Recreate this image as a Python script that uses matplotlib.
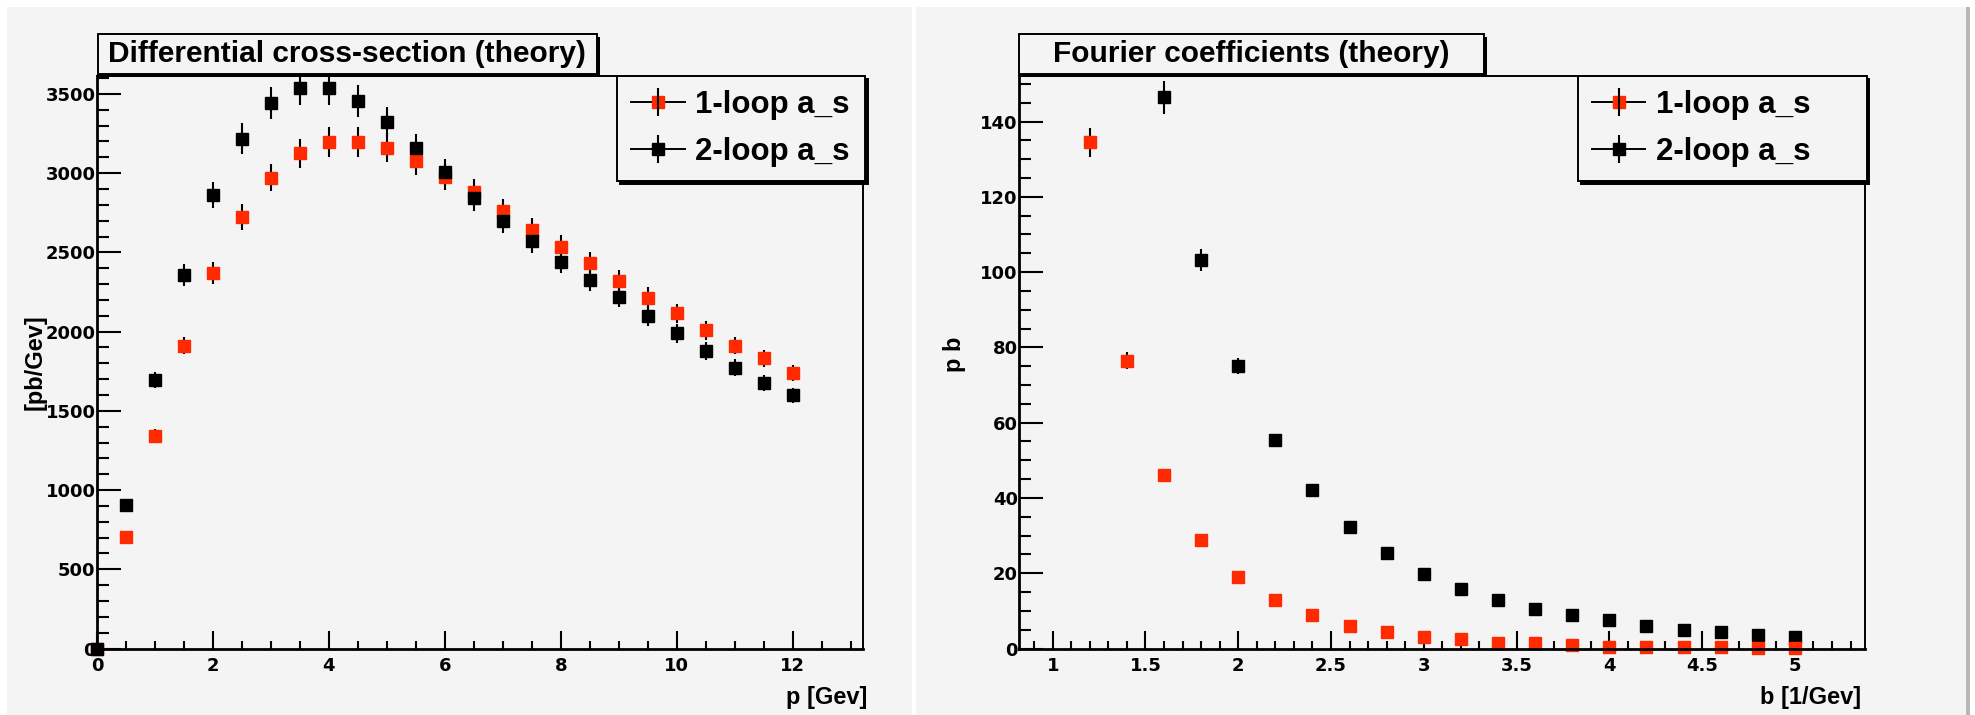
import matplotlib.pyplot as plt
from matplotlib.patches import Rectangle
from matplotlib.lines import Line2D
from matplotlib.legend_handler import HandlerTuple
from matplotlib.ticker import MultipleLocator, FuncFormatter

# ---- data: differential cross-section ----
p_gev = [0, 0.5, 1, 1.5, 2, 2.5, 3, 3.5, 4, 4.5, 5, 5.5, 6,
         6.5, 7, 7.5, 8, 8.5, 9, 9.5, 10, 10.5, 11, 11.5, 12]
xsec_1loop = [0, 706, 1341, 1911, 2369, 2724, 2972, 3126, 3195, 3195, 3161, 3077, 2978,
              2878, 2758, 2638, 2533, 2430, 2321, 2215, 2115, 2007, 1912, 1831, 1739]
xsec_1loop_err = [0, 25, 45, 55, 70, 80, 87, 92, 95, 95, 93, 90, 87,
                  84, 80, 77, 74, 71, 68, 65, 62, 59, 56, 53, 51]
xsec_2loop = [0, 908, 1696, 2358, 2865, 3218, 3441, 3536, 3536, 3454, 3323, 3159, 3006,
              2844, 2701, 2571, 2441, 2323, 2218, 2100, 1990, 1877, 1771, 1676, 1597]
xsec_2loop_err = [0, 30, 50, 70, 82, 100, 101, 107, 105, 100, 95, 90, 85,
                  80, 78, 75, 72, 68, 65, 62, 60, 56, 53, 50, 48]

# ---- data: Fourier coefficients ----
b_1loop = [1.2, 1.4, 1.6, 1.8, 2.0, 2.2, 2.4, 2.6, 2.8, 3.0,
           3.2, 3.4, 3.6, 3.8, 4.0, 4.2, 4.4, 4.6, 4.8, 5.0]
four_1loop = [134.5, 76.5, 46.1, 28.9, 18.9, 12.8, 8.9, 5.9, 4.4, 3.0,
              2.5, 1.5, 1.4, 1.0, 0.5, 0.5, 0.5, 0.4, 0.15, 0.05]
four_1loop_err = [3.9, 2.2, 1.4, 0.9, 0.6, 0.4, 0.3, 0.2, 0.15, 0.1,
                  0.08, 0.05, 0.05, 0.03, 0.02, 0.02, 0.02, 0.01, 0.01, 0.01]
b_2loop = [1.6, 1.8, 2.0, 2.2, 2.4, 2.6, 2.8, 3.0, 3.2,
           3.4, 3.6, 3.8, 4.0, 4.2, 4.4, 4.6, 4.8, 5.0]
four_2loop = [146.4, 103.2, 75.0, 55.5, 42.1, 32.2, 25.3, 19.8, 15.9,
              12.9, 10.4, 8.9, 7.5, 6.0, 5.0, 4.5, 3.5, 3.0]
four_2loop_err = [4.4, 2.9, 2.1, 1.6, 1.2, 0.9, 0.7, 0.6, 0.5,
                  0.4, 0.3, 0.25, 0.2, 0.17, 0.15, 0.13, 0.1, 0.09]

labels = ["1-loop a_s", "2-loop a_s"]

RED = "#ff2a00"
BG = "#f4f4f4"
BOLD = ["Liberation Sans", "DejaVu Sans"]

plt.rcParams["font.family"] = ["DejaVu Sans"]
plt.rcParams["font.weight"] = "bold"

W, H = 1975, 715
fig = plt.figure(figsize=(W / 100, H / 100), dpi=100, facecolor="white")


def fx(px):
    return px / W


def fy(py):
    return 1 - py / H


# pads (ROOT canvas look)
fig.add_artist(Rectangle((fx(7), 0), fx(912 - 7), fy(7), facecolor=BG,
                         edgecolor="none", transform=fig.transFigure, zorder=0))
fig.add_artist(Rectangle((fx(916), 0), fx(1966 - 916), fy(7), facecolor=BG,
                         edgecolor="none", transform=fig.transFigure, zorder=0))
fig.add_artist(Rectangle((fx(1966), 0), fx(4), fy(7), facecolor="#b8b8b8",
                         edgecolor="none", transform=fig.transFigure, zorder=0))

top, bottom = 76, 648.5
ax1 = fig.add_axes([fx(97), fy(bottom), fx(863.3 - 97), (bottom - top) / H])
ax2 = fig.add_axes([fx(1019.3), fy(bottom), fx(1865 - 1019.3), (bottom - top) / H])


def style(ax):
    ax.set_facecolor(BG)
    for s in ["left", "bottom"]:
        ax.spines[s].set_linewidth(2.0)
    for s in ["top", "right"]:
        ax.spines[s].set_linewidth(1.4)
    ax.tick_params(which="both", direction="in", top=False, right=False,
                   width=1.5, labelsize=13)
    ax.tick_params(axis="x", which="major", length=12.7, pad=6)
    ax.tick_params(axis="x", which="minor", length=6)
    ax.tick_params(axis="y", which="major", length=17, pad=1)
    ax.tick_params(axis="y", which="minor", length=8.5)


def draw(ax, x, y, e, color):
    cont = ax.errorbar(x, y, yerr=e, fmt="s", ms=8.6, mfc=color, mec=color,
                       ecolor="black", elinewidth=1.5, capsize=0)
    cont[0].set_clip_on(False)


def legend(ax, x0):
    hs = []
    for c in [RED, "black"]:
        line = Line2D([], [], color="black", lw=1.4, marker="s", ms=8.6, mfc=c, mec=c)
        bar = Line2D([], [], ls="none", marker="|", ms=20, mew=1.5, color="black")
        hs.append((line, bar))
    leg = ax.legend(hs, labels, handler_map={tuple: HandlerTuple(ndivide=1, pad=0)},
                    loc="upper left", bbox_to_anchor=(x0, 0, 1.002 - x0, 1.0),
                    mode="expand", borderaxespad=0, fancybox=False,
                    edgecolor="black", facecolor=BG, framealpha=1,
                    shadow={"color": "black", "alpha": 1},
                    prop={"family": BOLD, "weight": "bold", "size": 22.5},
                    handlelength=1.7, handletextpad=0.35, borderpad=0.45,
                    labelspacing=0.55)
    leg.get_frame().set_linewidth(1.4)


def title_box(x0, x1, text):
    y0, y1 = 34, 74
    fig.add_artist(Rectangle((fx(x0 + 3), fy(y1 + 3)), fx(x1 - x0), (y1 - y0) / H,
                             facecolor="black", edgecolor="none",
                             transform=fig.transFigure, zorder=5))
    fig.add_artist(Rectangle((fx(x0), fy(y1)), fx(x1 - x0), (y1 - y0) / H,
                             facecolor=BG, edgecolor="black", lw=1.4,
                             transform=fig.transFigure, zorder=6))
    fig.text(fx((x0 + x1) / 2), fy((y0 + y1) / 2), text, ha="center", va="center",
             fontsize=21.5, family=BOLD, weight="bold", zorder=7)


# ---- left: differential cross-section ----
style(ax1)
draw(ax1, p_gev, xsec_1loop, xsec_1loop_err, RED)
draw(ax1, p_gev, xsec_2loop, xsec_2loop_err, "black")
ax1.set_xlim(0, 13.22)
ax1.set_ylim(0, 3613)
ax1.xaxis.set_major_locator(MultipleLocator(2))
ax1.xaxis.set_minor_locator(MultipleLocator(0.5))
ax1.yaxis.set_major_locator(MultipleLocator(500))
ax1.yaxis.set_minor_locator(MultipleLocator(100))
ax1.set_xlabel("p [Gev]", ha="right", va="center", fontsize=17, family=BOLD, weight="bold")
ax1.xaxis.set_label_coords(1.005, -0.086)
ax1.set_ylabel("[pb/Gev]", va="center", fontsize=17, family=BOLD, weight="bold")
ax1.yaxis.set_label_coords(-0.081, 0.5)
legend(ax1, 0.679)
title_box(97.7, 597, "Differential cross-section (theory)")

# ---- right: Fourier coefficients ----
style(ax2)
draw(ax2, b_2loop, four_2loop, four_2loop_err, "black")
draw(ax2, b_1loop, four_1loop, four_1loop_err, RED)
ax2.set_xlim(0.82, 5.378)
ax2.set_ylim(0, 152.1)
ax2.xaxis.set_major_locator(MultipleLocator(0.5))
ax2.xaxis.set_minor_locator(MultipleLocator(0.1))
ax2.xaxis.set_major_formatter(FuncFormatter(lambda v, _: f"{v:g}"))
ax2.yaxis.set_major_locator(MultipleLocator(20))
ax2.yaxis.set_minor_locator(MultipleLocator(5))
ax2.set_xlabel("b [1/Gev]", ha="right", va="center", fontsize=17, family=BOLD, weight="bold")
ax2.xaxis.set_label_coords(0.996, -0.086)
ax2.set_ylabel("p b", va="center", fontsize=17, family=BOLD, weight="bold")
ax2.yaxis.set_label_coords(-0.077, 0.514)
legend(ax2, 0.661)
title_box(1019.3, 1484, "Fourier coefficients (theory)")

fig.savefig("out.png", dpi=100, facecolor="white")
